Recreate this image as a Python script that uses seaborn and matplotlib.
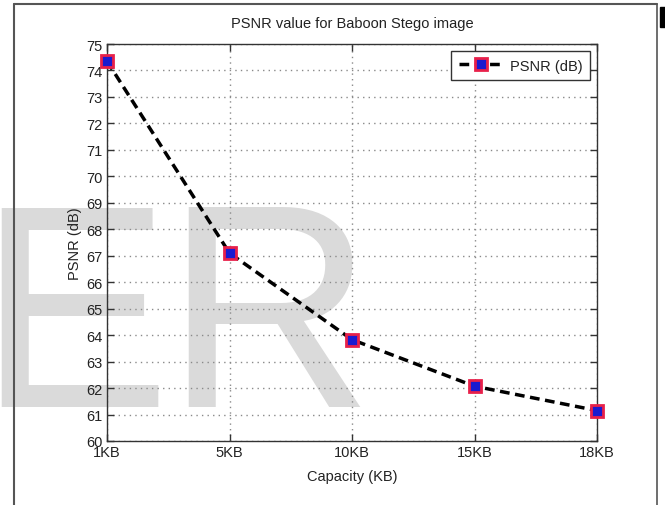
import matplotlib
matplotlib.use("Agg")
import matplotlib.pyplot as plt
import seaborn as sns
import pandas as pd
from matplotlib.patches import Rectangle
from matplotlib.lines import Line2D

# ---- data ----
capacity = ["1KB", "5KB", "10KB", "15KB", "18KB"]
psnr = [74.35, 67.1, 63.83, 62.07, 61.15]
series_name = "PSNR (dB)"
title = "PSNR value for Baboon Stego image"
xlabel = "Capacity (KB)"
ylabel = "PSNR (dB)"
yticks = list(range(60, 76))

sns.set_theme(style="white")
plt.rcParams["font.family"] = ["Liberation Sans", "DejaVu Sans"]

W, H = 665, 506
fig = plt.figure(figsize=(W / 100, H / 100), dpi=100)
fig.patch.set_facecolor("white")

def fx(px):
    return px / W

def fy(py):
    return 1 - py / H

ax = fig.add_axes([fx(107), fy(442), fx(597) - fx(107), fy(45) - fy(442)])
ax.set_facecolor("none")

df = pd.DataFrame({"Capacity": capacity, "PSNR": psnr})
df["pos"] = range(len(capacity))

sns.lineplot(data=df, x="pos", y="PSNR", ax=ax, color="black", linewidth=2.5,
             linestyle=(0, (2.8, 1.6)), marker="s", markersize=8.5,
             markerfacecolor="#1a1ad0", markeredgecolor="#e8204a",
             markeredgewidth=2.0, label=series_name, zorder=5, clip_on=False)

ax.set_xlim(0, len(capacity) - 1)
ax.set_ylim(60, 75)
ax.set_xticks(range(len(capacity)))
ax.set_xticklabels(capacity)
ax.set_yticks(yticks)
ax.set_yticklabels([str(v) for v in yticks])

ax.grid(True, color="#8a8a8a", linestyle=(0, (1, 3)), linewidth=1.0)
for sp in ax.spines.values():
    sp.set_color("#333333")
    sp.set_linewidth(1.0)
    sp.set_visible(True)
ax.tick_params(direction="in", length=5, width=1, color="#333333",
               top=True, right=True, bottom=True, left=True,
               labelsize=10.5, labelcolor="#222222", pad=3)

ax.set_title(title, fontsize=10.5, color="#222222", pad=12)
ax.set_xlabel(xlabel, fontsize=10.5, color="#222222", labelpad=7)
ax.set_ylabel(ylabel, fontsize=10.5, color="#222222", labelpad=3)

leg = ax.legend(loc="upper right", fontsize=10.5, handlelength=3.0,
                fancybox=False, framealpha=1, edgecolor="#333333",
                borderaxespad=0.5, borderpad=0.5, handletextpad=0.5)
leg.get_frame().set_linewidth(1.0)
for t in leg.get_texts():
    t.set_color("#222222")

# watermark letters
wm_color = "#dadada"
fig.text(fx(-23), fy(407), "E", fontsize=208, color=wm_color,
         ha="left", va="baseline", zorder=-1, family=["Liberation Sans"])
fig.text(fx(164), fy(407), "R", fontsize=208, color=wm_color,
         ha="left", va="baseline", zorder=-1, family=["Liberation Sans"])

# outer frame of the original figure
fig.add_artist(Line2D([fx(14), fx(14)], [fy(5), fy(510)], color="#555555", lw=1.5))
fig.add_artist(Line2D([fx(14), fx(657)], [fy(5), fy(5)], color="#555555", lw=1.5))
fig.add_artist(Line2D([fx(657), fx(657)], [fy(5), fy(510)], color="#555555", lw=1.2))
fig.add_artist(Rectangle((fx(660), fy(28)), fx(665) - fx(660), fy(8) - fy(28),
                         color="black", transform=fig.transFigure))

fig.savefig("out.png", dpi=100, facecolor="white")
